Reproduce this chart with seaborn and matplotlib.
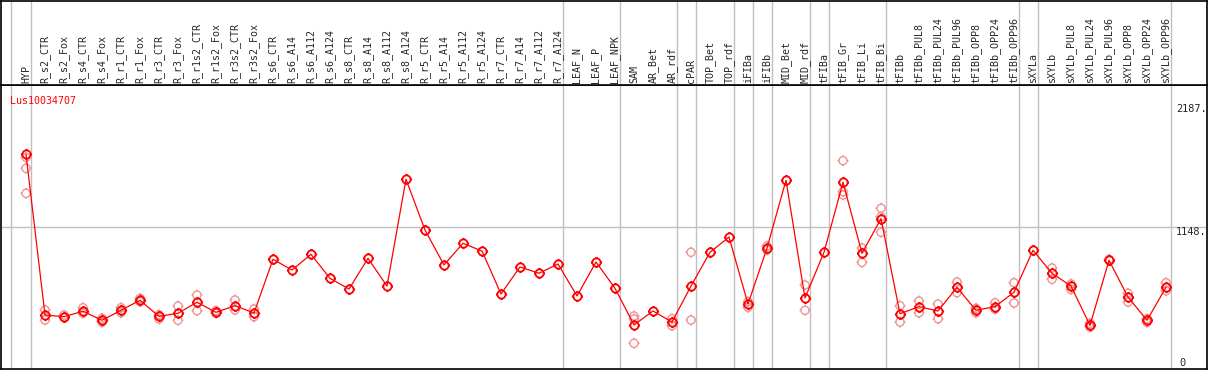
import numpy as np
import pandas as pd
import seaborn as sns
import matplotlib.pyplot as plt
from matplotlib.path import Path

samples = ['HYP', 'R_s2_CTR', 'R_s2_Fox', 'R_s4_CTR', 'R_s4_Fox', 'R_r1_CTR', 'R_r1_Fox',
           'R_r3_CTR', 'R_r3_Fox', 'R_r1s2_CTR', 'R_r1s2_Fox', 'R_r3s2_CTR', 'R_r3s2_Fox',
           'R_s6_CTR', 'R_s6_A14', 'R_s6_A112', 'R_s6_A124', 'R_s8_CTR', 'R_s8_A14',
           'R_s8_A112', 'R_s8_A124', 'R_r5_CTR', 'R_r5_A14', 'R_r5_A112', 'R_r5_A124',
           'R_r7_CTR', 'R_r7_A14', 'R_r7_A112', 'R_r7_A124', 'LEAF_N', 'LEAF_P', 'LEAF_NPK',
           'SAM', 'AR_Bet', 'AR_rdf', 'cPAR', 'TOP_Bet', 'TOP_rdf', 'iFIBa', 'iFIBb',
           'MID_Bet', 'MID_rdf', 'tFIBa', 'tFIB_Gr', 'tFIB_Li', 'tFIB_Bi', 'tFIBb',
           'tFIBb_PUL8', 'tFIBb_PUL24', 'tFIBb_PUL96', 'tFIBb_OPP8', 'tFIBb_OPP24',
           'tFIBb_OPP96', 'sXYLa', 'sXYLb', 'sXYLb_PUL8', 'sXYLb_PUL24', 'sXYLb_PUL96',
           'sXYLb_OPP8', 'sXYLb_OPP24', 'sXYLb_OPP96']

# sizes of the sample groups separated by grey lines
group_sizes = [1, 28, 3, 3, 1, 2, 1, 1, 2, 1, 3, 7, 1, 7]

means = [1763, 405, 391, 437, 361, 445, 530, 394, 420, 513, 428, 484, 422,
         876, 785, 918, 715, 625, 884, 650, 1552, 1123, 828, 1011, 946,
         583, 811, 758, 836, 566, 853, 631,
         321, 439, 346, 650, 935, 1064, 498, 971, 1543, 549, 935,
         1526, 927, 1219, 416, 476, 439, 639, 445, 476, 597,
         952, 758, 650, 318, 867, 557, 361, 639]

replicates = [[1737, 1644, 1433], [448, 363], [405, 386], [467, 420], [378, 344],
              [467, 425], [546, 518], [408, 372], [481, 361], [574, 442], [442, 420],
              [532, 448], [456, 391], [], [], [], [], [], [], [], [], [], [], [], [],
              [], [], [], [], [], [], [],
              [397, 372, 166], [], [374, 315], [935, 363], [], [], [518, 470],
              [988, 954], [], [659, 445], [], [1709, 1447, 1419], [971, 850],
              [1307, 1236, 1104], [484, 346], [524, 425], [498, 374], [684, 594],
              [462, 425], [509, 454], [678, 507], [], [802, 707], [667, 622],
              [335, 302], [876], [589, 515], [374, 344], [678, 611]]

gene = 'Lus10034707'
ytick_values = [2187, 1148, 0]

mean_df = pd.DataFrame({'x': np.arange(len(samples)), 'value': means})
rep_df = pd.DataFrame([(i, v) for i, reps in enumerate(replicates) for v in reps],
                      columns=['x', 'value'])

# circle marker with four little ticks
ticks = Path([(0, 1), (0, 1.35), (0, -1), (0, -1.35), (1, 0), (1.35, 0), (-1, 0), (-1.35, 0)],
             [Path.MOVETO, Path.LINETO] * 4)
tick_circle = Path.make_compound_path(Path.unit_circle(), ticks)

sns.set_style('white')
plt.rcParams['font.family'] = ['DejaVu Sans Mono']

W, H = 1209, 370
fig = plt.figure(figsize=(W / 100, H / 100), dpi=100)
ax = fig.add_axes([1 / W, (H - 369) / H, 1206 / W, (369 - 85) / H])
ax_head = fig.add_axes([1 / W, (H - 85) / H, 1206 / W, 84.5 / H])

x_lo, x_hi = (1 - 26) / 19, (1207 - 26) / 19
grey = '#c0c0c0'
red = '#ff0000'
light = '#f09494'

bounds = np.concatenate([[0], np.cumsum(group_sizes)]) - 0.75
bounds[0] = -0.8
for a in (ax, ax_head):
    a.set_xlim(x_lo, x_hi)
    for b in bounds:
        a.axvline(b, color=grey, lw=1, zorder=0)
    a.set_xticks([])
    a.set_yticks([])
    for s in a.spines.values():
        s.set_color('black')
        s.set_linewidth(1.2)

ax.set_ylim((363 - 369) / 0.1184, (363 - 85) / 0.1184)
ax.axhline(ytick_values[1], color=grey, lw=1, zorder=0)

sns.scatterplot(data=rep_df, x='x', y='value', ax=ax, marker=tick_circle, s=62,
                facecolor='none', edgecolor=light, linewidth=1.0, zorder=2, legend=False)
sns.lineplot(data=mean_df, x='x', y='value', ax=ax, color=red, lw=0.9,
             marker=tick_circle, markersize=8, markerfacecolor='none',
             markeredgecolor=red, markeredgewidth=1.3, zorder=3)
ax.set_xlabel('')
ax.set_ylabel('')

ytr = ax.get_yaxis_transform()
ax.text(0.9995, ytick_values[0], f'{ytick_values[0]}.', transform=ytr, ha='right',
        va='top', fontsize=7.4)
ax.text(0.9995, ytick_values[1], f'{ytick_values[1]}.', transform=ytr, ha='right',
        va='top', fontsize=7.4)
ax.text(0.9768, ytick_values[2], f'{ytick_values[2]}', transform=ytr, ha='left',
        va='center', fontsize=7.4)
ax.text(0.0075, 0.945, gene, transform=ax.transAxes, color=red, fontsize=7.2,
        ha='left', va='center')

ax_head.set_ylim(0, 1)
for i, name in enumerate(samples):
    ax_head.text(i, 0.025, name, rotation=90, ha='center', va='bottom', fontsize=7.2)

fig.savefig('out.png', dpi=100)
